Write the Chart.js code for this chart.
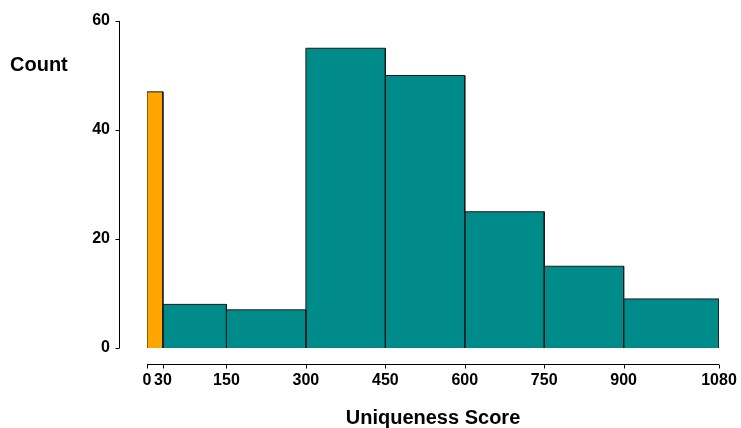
<!DOCTYPE html>
<html>
<head>
<meta charset="utf-8">
<script src="https://cdn.jsdelivr.net/npm/chart.js@4/dist/chart.umd.min.js"></script>
<style>
html,body{margin:0;padding:0;background:#fff;}
#wrap{width:741px;height:428px;position:relative;}
</style>
</head>
<body>
<div id="wrap"><canvas id="c"></canvas></div>
<script>
// Data
const binEdges = [0, 30, 150, 300, 450, 600, 750, 900, 1080];
const counts = [47, 8, 7, 55, 50, 25, 15, 9];
const binColors = ['#FFA500', '#008B8B', '#008B8B', '#008B8B', '#008B8B', '#008B8B', '#008B8B', '#008B8B'];
const xTickValues = [0, 30, 150, 300, 450, 600, 750, 900, 1080];
const yTickValues = [0, 20, 40, 60];
const xTitle = 'Uniqueness Score';
const yTitle = 'Count';

const FONT = '"Liberation Sans", Arial, Helvetica, sans-serif';
const EDGE = '#1a1a1a';

const datasets = counts.map((h, i) => {
  const lo = binEdges[i], hi = binEdges[i + 1];
  return {
    data: [{x: lo, y: 0}, {x: lo, y: h}, {x: hi, y: h}, {x: hi, y: 0}],
    fill: 'origin',
    backgroundColor: binColors[i],
    borderColor: EDGE,
    borderWidth: 1,
    pointRadius: 0,
    pointHoverRadius: 0,
    tension: 0
  };
});
// bottom edges of all bars
datasets.push({
  data: [{x: binEdges[0], y: 0}, {x: binEdges[binEdges.length - 1], y: 0}],
  fill: false,
  borderColor: EDGE,
  borderWidth: 1,
  pointRadius: 0,
  pointHoverRadius: 0
});

const axisPlugin = {
  id: 'rAxes',
  afterDraw(chart) {
    const ctx = chart.ctx;
    const xs = chart.scales.x, ys = chart.scales.y;
    const ca = chart.chartArea;
    ctx.save();
    ctx.strokeStyle = '#000';
    ctx.lineWidth = 1;
    // y axis
    const ax = Math.round(ca.left - 28) + 0.5;
    ctx.beginPath();
    ctx.moveTo(ax, ys.getPixelForValue(yTickValues[0]));
    ctx.lineTo(ax, ys.getPixelForValue(yTickValues[yTickValues.length - 1]));
    yTickValues.forEach(v => {
      const py = Math.round(ys.getPixelForValue(v)) + 0.5;
      ctx.moveTo(ax, py);
      ctx.lineTo(ax - 4, py);
    });
    ctx.stroke();
    // x axis
    const ay = Math.round(ca.bottom + 16) + 0.5;
    ctx.beginPath();
    ctx.moveTo(xs.getPixelForValue(xTickValues[0]), ay);
    ctx.lineTo(xs.getPixelForValue(xTickValues[xTickValues.length - 1]), ay);
    xTickValues.forEach(v => {
      const px = Math.round(xs.getPixelForValue(v)) + 0.5;
      ctx.moveTo(px, ay);
      ctx.lineTo(px, ay + 4);
    });
    ctx.stroke();
    // y title (horizontal)
    ctx.fillStyle = '#000';
    ctx.font = 'bold 20px ' + FONT;
    ctx.textAlign = 'left';
    ctx.textBaseline = 'middle';
    ctx.fillText(yTitle, 10, 65);
    ctx.restore();
  }
};

function zeroPad(s) { s.paddingTop = 0; s.paddingBottom = 0; s.paddingLeft = 0; s.paddingRight = 0; }

new Chart(document.getElementById('c'), {
  type: 'line',
  data: {datasets},
  options: {
    responsive: true,
    maintainAspectRatio: false,
    animation: false,
    layout: {padding: {left: 0, right: 22, top: 21, bottom: 0}},
    plugins: {legend: {display: false}, tooltip: {enabled: false}},
    scales: {
      x: {
        type: 'linear',
        min: 0, max: 1080,
        afterBuildTicks: s => { s.ticks = xTickValues.map(v => ({value: v})); },
        afterFit: s => { s.height = 80; zeroPad(s); },
        grid: {display: false, drawTicks: false},
        border: {display: false},
        ticks: {
          autoSkip: false, maxRotation: 0, minRotation: 0,
          padding: 23, color: '#000',
          callback: v => String(v),
          font: {family: FONT, size: 16, weight: 'bold'}
        },
        title: {
          display: true, text: xTitle, color: '#000',
          font: {family: FONT, size: 20, weight: 'bold'},
          padding: {top: 0, bottom: -2}
        }
      },
      y: {
        type: 'linear',
        min: 0, max: 60,
        afterBuildTicks: s => { s.ticks = yTickValues.map(v => ({value: v})); },
        afterFit: s => { s.width = 147; zeroPad(s); },
        grid: {display: false, drawTicks: false},
        border: {display: false},
        ticks: {
          padding: 37, color: '#000',
          callback: v => String(v),
          font: {family: FONT, size: 16, weight: 'bold'}
        }
      }
    }
  },
  plugins: [axisPlugin]
});
</script>
</body>
</html>
